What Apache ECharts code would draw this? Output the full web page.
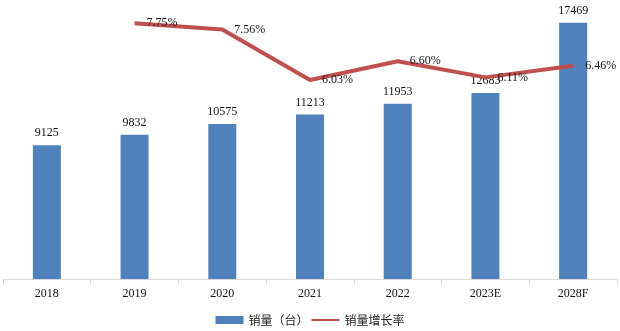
<!DOCTYPE html>
<html><head><meta charset="utf-8">
<script src="https://cdn.jsdelivr.net/npm/echarts@6/dist/echarts.min.js"></script>
<style>html,body{margin:0;padding:0;background:#fff}#c{width:620px;height:331px}</style>
</head><body><div id="c"></div>
<script>
const categories = ['2018','2019','2020','2021','2022','2023E','2028F'];
const sales = [9125, 9832, 10575, 11213, 11953, 12683, 17469];
const growth = [null, 7.75, 7.56, 6.03, 6.60, 6.11, 6.46];
const seriesNames = ['销量（台）', '销量增长率'];

const serif = '"Times New Roman","Liberation Serif",serif';
const chart = echarts.init(document.getElementById('c'));
chart.setOption({
  animation: false,
  backgroundColor: '#fff',
  grid: {left: 3, right: 3, top: 15, bottom: 52, containLabel: false},
  legend: {
    bottom: 0, left: 'center', itemWidth: 28, itemHeight: 8, itemGap: 2,
    textStyle: {fontFamily: '"Noto Sans CJK SC",sans-serif', fontSize: 12, color: '#222'},
    data: [{name: seriesNames[0], icon: 'rect'}, {name: seriesNames[1], itemStyle: {opacity: 0}}]
  },
  xAxis: {
    type: 'category', data: categories,
    axisLine: {lineStyle: {color: '#d9d9d9'}},
    axisTick: {show: true, length: 5, lineStyle: {color: '#d9d9d9'}},
    axisLabel: {fontFamily: serif, fontSize: 12, color: '#111', margin: 9}
  },
  yAxis: [
    {type: 'value', min: 0, max: 18000, show: false, splitLine: {show: false}},
    {type: 'value', min: 0, max: 8, show: false, splitLine: {show: false}}
  ],
  series: [
    {
      name: seriesNames[0], type: 'bar', data: sales, barWidth: 28,
      itemStyle: {color: '#4f81bd'},
      label: {show: true, position: 'top', distance: 6, fontFamily: serif, fontSize: 12, color: '#111'}
    },
    {
      name: seriesNames[1], type: 'line', yAxisIndex: 1, data: growth,
      showSymbol: true, symbol: 'circle', symbolSize: 0.1,
      lineStyle: {color: '#c0504d', width: 4},
      itemStyle: {color: '#c0504d'},
      label: {show: true, position: 'right', distance: 12, fontFamily: serif, fontSize: 12, color: '#111',
        formatter: p => p.value.toFixed(2) + '%'}
    }
  ]
});
</script></body></html>
